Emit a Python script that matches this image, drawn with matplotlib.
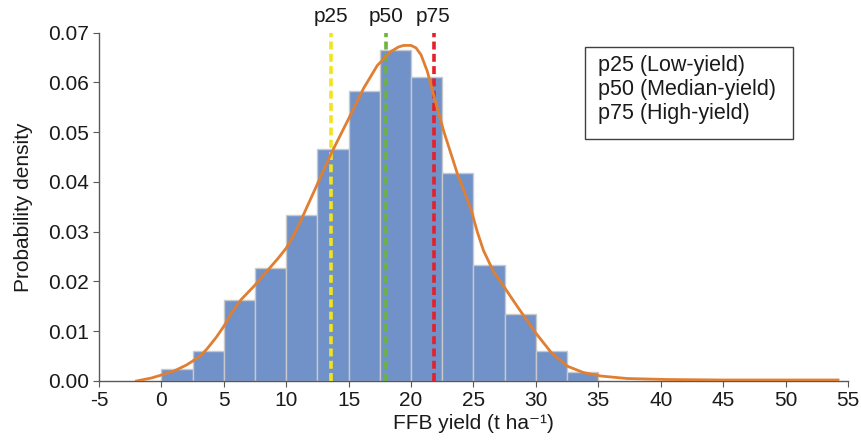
import matplotlib
matplotlib.use("Agg")
import matplotlib.pyplot as plt
from matplotlib.patches import Rectangle

plt.rcParams['font.family'] = ['Liberation Sans', 'DejaVu Sans']
plt.rcParams['axes.unicode_minus'] = False

# Histogram data
bin_edges = [0, 2.5, 5, 7.5, 10, 12.5, 15, 17.5, 20, 22.5, 25, 27.5, 30, 32.5, 35]
densities = [0.0024, 0.0061, 0.0162, 0.0226, 0.0334, 0.0465, 0.0582, 0.0665,
             0.0611, 0.0417, 0.0234, 0.0134, 0.0060, 0.0019]

# Density curve
kde_x = [-2.0, -1.6, -0.8, 0.0, 1.0, 2.0, 2.5, 3.2, 3.7, 4.4, 5.0, 5.7, 6.4, 7.4,
         8.5, 9.3, 10.0, 10.6, 11.2, 12.5, 13.6, 15.2, 16.2, 17.3, 18.4, 19.0,
         19.4, 20.0, 20.4, 20.8, 21.3, 21.8, 22.6, 23.7, 24.8, 25.3, 25.8,
         26.6, 27.4, 28.5, 30.0, 31.2, 32.5, 33.8, 35.2, 37.3, 40.5, 45.0,
         50.0, 54.2]
kde_y = [0.0, 0.0002, 0.0006, 0.0012, 0.0020, 0.0032, 0.0040, 0.0052, 0.0066,
         0.0088, 0.0110, 0.0140, 0.0164, 0.0190, 0.0222, 0.0245, 0.0267,
         0.0293, 0.0324, 0.0396, 0.0457, 0.0537, 0.0588, 0.0634, 0.0662,
         0.0671, 0.0674, 0.0674, 0.0669, 0.0655, 0.0622, 0.0575, 0.0503,
         0.0417, 0.0345, 0.0300, 0.0262, 0.0220, 0.0191, 0.0150, 0.0096,
         0.0058, 0.0030, 0.0017, 0.0010, 0.0005, 0.0003, 0.0002, 0.0002,
         0.0002]

# Percentiles
pct_labels = ['p25', 'p50', 'p75']
pct_values = [13.6, 18.0, 21.8]
pct_colors = ['#F2E41C', '#6AB43E', '#E5202A']
legend_lines = ['p25 (Low-yield)', 'p50 (Median-yield)', 'p75 (High-yield)']

W, H = 861, 443
fig = plt.figure(figsize=(W / 100, H / 100), dpi=100)
ax = fig.add_axes([99 / W, 1 - 381 / H, (848 - 99) / W, (381 - 32.5) / H])

ax.hist(bin_edges[:-1], bins=bin_edges, weights=densities,
        color='#7092C9', edgecolor='#C9C9C9', linewidth=1.0, zorder=2)
ax.plot(kde_x, kde_y, color='#E07F32', linewidth=2.0, zorder=4,
        solid_joinstyle='round')

for lab, v, c in zip(pct_labels, pct_values, pct_colors):
    ax.plot([v, v], [0, 0.07], color=c, linewidth=2.6, linestyle=(0, (2.2, 1.2)),
            zorder=3, clip_on=False)
    ax.text(v, 0.0713, lab, ha='center', va='bottom', fontsize=15, color='#1a1a1a')

ax.set_xlim(-5, 55)
ax.set_ylim(0, 0.07)
ax.set_xticks(range(-5, 56, 5))
yt = [0, 0.01, 0.02, 0.03, 0.04, 0.05, 0.06, 0.07]
ax.set_yticks(yt)
ax.set_yticklabels([f'{v:.2f}' for v in yt])

for s in ['top', 'right']:
    ax.spines[s].set_visible(False)
for s in ['left', 'bottom']:
    ax.spines[s].set_color('#595959')
    ax.spines[s].set_linewidth(1.0)
ax.tick_params(axis='both', direction='out', length=4, color='#595959',
               labelsize=15, labelcolor='#1a1a1a', pad=3)

ax.set_xlabel('FFB yield (t ha\u207b\u00b9)', fontsize=15, color='#1a1a1a', labelpad=3)
ax.set_ylabel('Probability density', fontsize=15, color='#1a1a1a', labelpad=11)

# Legend box (text only)
fig.patches.append(Rectangle((585 / W, 1 - 139 / H), (793 - 585) / W, (139 - 47) / H,
                             transform=fig.transFigure, facecolor='white',
                             edgecolor='#404040', linewidth=1.0, zorder=5))
for i, line in enumerate(legend_lines):
    fig.text(598 / W, 1 - (66 + 23.5 * i) / H, line, ha='left', va='center',
             fontsize=15.5, color='#1a1a1a', zorder=6)

fig.savefig('out.png', dpi=100)
